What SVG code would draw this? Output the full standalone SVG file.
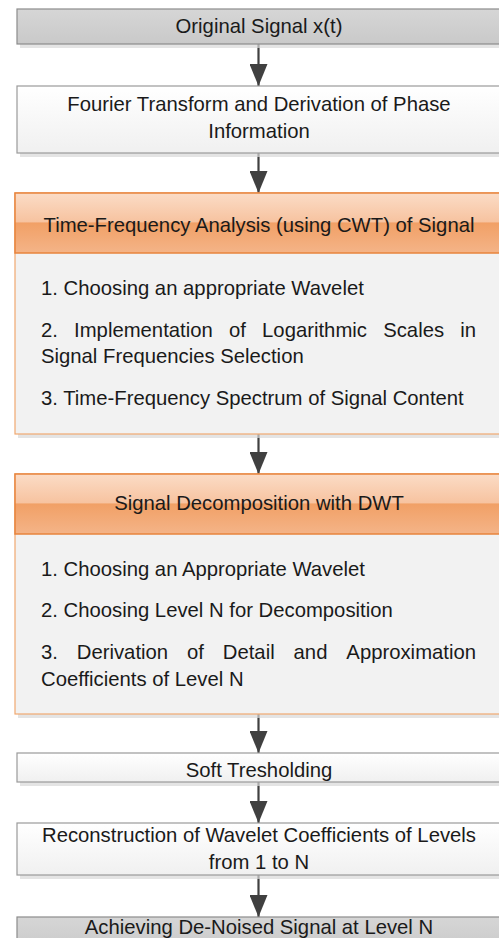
<svg xmlns="http://www.w3.org/2000/svg" width="499" height="938" viewBox="0 0 499 938">
  <defs>
    <linearGradient id="gGrey" x1="0" y1="0" x2="0" y2="1">
      <stop offset="0" stop-color="#d6d6d6"/>
      <stop offset="1" stop-color="#c9c9c9"/>
    </linearGradient>
    <linearGradient id="gWhite" x1="0" y1="0" x2="0" y2="1">
      <stop offset="0" stop-color="#ffffff"/>
      <stop offset="1" stop-color="#f0f0f0"/>
    </linearGradient>
    <linearGradient id="gOrange" x1="0" y1="0" x2="0" y2="1">
      <stop offset="0" stop-color="#fbdcc6"/>
      <stop offset="0.48" stop-color="#f7c3a0"/>
      <stop offset="0.5" stop-color="#f1a066"/>
      <stop offset="1" stop-color="#f4b488"/>
    </linearGradient>
    <!-- arrowhead drawn along +x, tip at the line end -->
    <marker id="arrow" viewBox="0 0 22 18" refX="22" refY="9" markerWidth="22" markerHeight="18" markerUnits="userSpaceOnUse" orient="auto">
      <path d="M0,0 L22,9 L0,18 Z" fill="#404040"/>
    </marker>
  </defs>
  <style>
    text { font-family: "Liberation Sans", Arial, sans-serif; font-size: 20.3px; fill: #1a1a1a; }
    .c { text-anchor: middle; }
    .e { text-anchor: end; }
    .shadow { fill: #d8d8d8; opacity: 0.7; }
    .grey { fill: url(#gGrey); stroke: #8c8c8c; stroke-width: 1.2; }
    .white { fill: url(#gWhite); stroke: #9a9a9a; stroke-width: 1.2; }
    .head { fill: url(#gOrange); stroke: #e8843c; stroke-width: 1.5; }
    .body { fill: #f2f2f2; stroke: #f0a870; stroke-width: 1.2; }
    .conn line { stroke: #404040; stroke-width: 2.2; }
  </style>
  <rect width="499" height="938" fill="#ffffff"/>

  <!-- connectors -->
  <g id="connectors" class="conn">
    <line x1="258.5" y1="44" x2="258.5" y2="86" marker-end="url(#arrow)"/>
    <line x1="258.5" y1="153" x2="258.5" y2="193" marker-end="url(#arrow)"/>
    <line x1="258.5" y1="434" x2="258.5" y2="474" marker-end="url(#arrow)"/>
    <line x1="258.5" y1="714" x2="258.5" y2="753" marker-end="url(#arrow)"/>
    <line x1="258.5" y1="782" x2="258.5" y2="823" marker-end="url(#arrow)"/>
    <line x1="258.5" y1="875" x2="258.5" y2="917" marker-end="url(#arrow)"/>
  </g>

  <g id="original-signal">
    <rect class="shadow" x="20" y="12" width="484" height="36"/>
    <rect class="grey" x="17" y="9" width="484" height="35"/>
    <text class="c" x="259" y="33">Original Signal x(t)</text>
  </g>

  <g id="fourier">
    <rect class="shadow" x="20" y="89" width="484" height="68"/>
    <rect class="white" x="17" y="86" width="484" height="67"/>
    <text class="c" x="259" y="111">Fourier Transform and Derivation of Phase</text>
    <text class="c" x="259" y="138">Information</text>
  </g>

  <g id="cwt">
    <rect class="shadow" x="18" y="196" width="486" height="242"/>
    <rect class="body" x="15" y="193" width="486" height="241"/>
    <rect class="head" x="15" y="193" width="486" height="60"/>
    <text class="c" x="259" y="232">Time-Frequency Analysis (using CWT) of Signal</text>
    <text x="41" y="295">1. Choosing an appropriate Wavelet</text>
    <!-- justified line -->
    <text y="337"><tspan x="41">2.</tspan><tspan x="74.1">Implementation</tspan><tspan x="229">of</tspan><tspan x="262.1">Logarithmic</tspan><tspan x="383.2">Scales</tspan></text>
    <text class="e" x="476" y="337">in</text>
    <text x="41" y="363">Signal Frequencies Selection</text>
    <text x="41" y="405">3. Time-Frequency Spectrum of Signal Content</text>
  </g>

  <g id="dwt">
    <rect class="shadow" x="18" y="477" width="486" height="241"/>
    <rect class="body" x="15" y="474" width="486" height="240"/>
    <rect class="head" x="15" y="474" width="486" height="60"/>
    <text class="c" x="259" y="510">Signal Decomposition with DWT</text>
    <text x="41" y="576">1. Choosing an Appropriate Wavelet</text>
    <text x="41" y="617">2. Choosing Level N for Decomposition</text>
    <!-- justified line -->
    <text y="659"><tspan x="41">3.</tspan><tspan x="76.8">Derivation</tspan><tspan x="187">of</tspan><tspan x="222.8">Detail</tspan><tspan x="293.6">and</tspan></text>
    <text class="e" x="476" y="659">Approximation</text>
    <text x="41" y="686">Coefficients of Level N</text>
  </g>

  <g id="soft-thresholding">
    <rect class="shadow" x="20" y="756" width="484" height="30"/>
    <rect class="white" x="17" y="753" width="484" height="29"/>
    <text class="c" x="259" y="777">Soft Tresholding</text>
  </g>

  <g id="reconstruction">
    <rect class="shadow" x="20" y="826" width="484" height="53"/>
    <rect class="white" x="17" y="823" width="484" height="52"/>
    <text class="c" x="259" y="842">Reconstruction of Wavelet Coefficients of Levels</text>
    <text class="c" x="259" y="869">from 1 to N</text>
  </g>

  <g id="denoised-signal">
    <rect class="grey" x="17" y="917" width="484" height="35"/>
    <text class="c" x="259" y="934">Achieving De-Noised Signal at Level N</text>
  </g>
</svg>
